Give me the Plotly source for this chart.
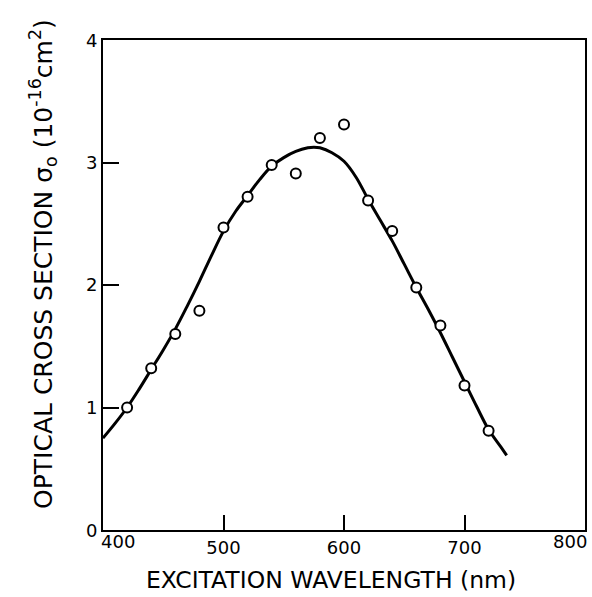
import plotly.graph_objects as go

# Measured data points (open circles)
wavelength_pts = [420, 440, 460, 480, 500, 520, 540, 560, 580, 600, 620, 640, 660, 680, 700, 720]
sigma_pts = [1.00, 1.32, 1.60, 1.79, 2.47, 2.72, 2.98, 2.91, 3.20, 3.31, 2.69, 2.44, 1.98, 1.67, 1.18, 0.81]

# Fitted curve (solid line)
wavelength_fit = [400, 410, 420, 430, 440, 450, 460, 470, 480, 490, 500, 510, 520, 530, 540, 550,
                  560, 570, 575, 580, 590, 600, 610, 620, 630, 640, 650, 660, 670, 680, 690, 700,
                  710, 720, 730, 735]
sigma_fit = [0.75, 0.87, 1.00, 1.15, 1.31, 1.47, 1.64, 1.83, 2.03, 2.24, 2.44, 2.60, 2.73, 2.86, 2.97, 3.04,
             3.09, 3.12, 3.125, 3.12, 3.08, 3.01, 2.88, 2.70, 2.53, 2.36, 2.17, 1.98, 1.80, 1.61, 1.41, 1.21,
             1.01, 0.82, 0.68, 0.61]

x_ticks = [500, 600, 700]
x_ticktext = ["500", "600", "700"]
y_ticks = [1, 2, 3]
y_ticktext = ["1", "2", "3"]

x_title = "EXCITATION WAVELENGTH (nm)"
y_title = "OPTICAL CROSS SECTION σ<sub>o</sub> (10<sup>-16</sup>cm<sup>2</sup>)"

FONT = "DejaVu Sans"
TICK_SIZE = 18

fig = go.Figure()
fig.add_trace(go.Scatter(
    x=wavelength_fit, y=sigma_fit, mode="lines",
    line=dict(color="black", width=3, shape="spline"),
    showlegend=False, hoverinfo="skip"))
fig.add_trace(go.Scatter(
    x=wavelength_pts, y=sigma_pts, mode="markers",
    marker=dict(symbol="circle", size=10, color="white",
                line=dict(color="black", width=2)),
    showlegend=False))

fig.update_layout(
    width=592, height=597,
    margin=dict(l=103, r=5, t=40, b=67),
    paper_bgcolor="white", plot_bgcolor="white",
    font=dict(family=FONT, color="black", size=TICK_SIZE),
    xaxis=dict(
        range=[400, 800], showgrid=False, zeroline=False,
        showline=True, linecolor="black", linewidth=2, mirror=True,
        tickmode="array", tickvals=x_ticks, ticktext=x_ticktext,
        ticks="inside", ticklen=15, tickwidth=2, tickcolor="black",
        tickfont=dict(family=FONT, size=TICK_SIZE),
    ),
    yaxis=dict(
        range=[0, 4], showgrid=False, zeroline=False,
        showline=True, linecolor="black", linewidth=2, mirror=True,
        tickmode="array", tickvals=y_ticks, ticktext=y_ticktext,
        ticks="inside", ticklen=16, tickwidth=2, tickcolor="black",
        tickfont=dict(family=FONT, size=TICK_SIZE),
    ),
)

# Corner tick labels sit at the axis ends
fig.add_annotation(x=400, y=0, xref="x", yref="paper", text="400", showarrow=False,
                   xanchor="left", yanchor="top", xshift=-4, yshift=1,
                   font=dict(family=FONT, size=TICK_SIZE, color="black"))
fig.add_annotation(x=800, y=0, xref="x", yref="paper", text="800", showarrow=False,
                   xanchor="right", yanchor="top", xshift=4, yshift=1,
                   font=dict(family=FONT, size=TICK_SIZE, color="black"))
fig.add_annotation(x=0, y=0, xref="paper", yref="y", text="0", showarrow=False,
                   xanchor="right", yanchor="middle", xshift=-4,
                   font=dict(family=FONT, size=TICK_SIZE, color="black"))
fig.add_annotation(x=0, y=4, xref="paper", yref="y", text="4", showarrow=False,
                   xanchor="right", yanchor="middle", xshift=-4,
                   font=dict(family=FONT, size=TICK_SIZE, color="black"))

# Axis titles
fig.add_annotation(x=0.473, y=0, xref="paper", yref="paper", text=x_title, showarrow=False,
                   xanchor="center", yanchor="middle", yshift=-50,
                   font=dict(family=FONT, size=23.5, color="black"))
fig.add_annotation(x=0, y=0.543, xref="paper", yref="paper", text=y_title, showarrow=False,
                   textangle=-90, xanchor="center", yanchor="middle", xshift=-60,
                   font=dict(family=FONT, size=25, color="black"))

fig.write_html("out.html")
